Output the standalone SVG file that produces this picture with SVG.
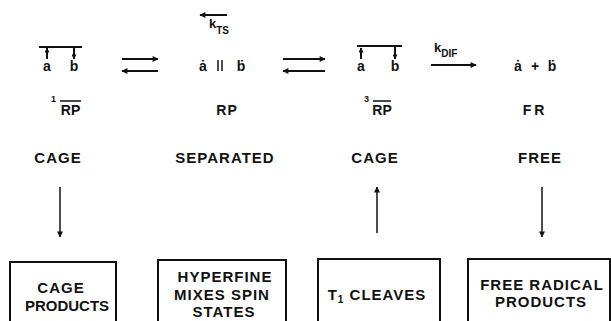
<svg xmlns="http://www.w3.org/2000/svg" width="611" height="321" viewBox="0 0 611 321">
<style>
text{font-family:"Liberation Sans","DejaVu Sans",Arial,sans-serif;font-weight:bold;fill:#111;}
.lbl{font-size:15px;letter-spacing:1px;text-anchor:middle;}
.sym{font-size:14px;text-anchor:middle;}
.sub{font-size:10px;}
.sup{font-size:9px;}
.box{fill:none;stroke:#111;stroke-width:2;}
.ln{stroke:#111;stroke-width:2;fill:none;}
.thin{stroke:#111;stroke-width:1.5;fill:none;}
</style>
<defs>
<marker id="ah" viewBox="0 0 10 10" refX="9" refY="5" markerWidth="9" markerHeight="6" markerUnits="userSpaceOnUse" orient="auto"><path d="M0,0 L10,5 L0,10 z" fill="#111"/></marker>
<marker id="ahs" viewBox="0 0 10 10" refX="9" refY="5" markerWidth="6" markerHeight="5" markerUnits="userSpaceOnUse" orient="auto"><path d="M0,0 L10,5 L0,10 z" fill="#111"/></marker>
</defs>

<g id="singlet-cage">
<line class="ln" x1="39" y1="47" x2="82" y2="47"/>
<line class="ln" x1="47" y1="59" x2="47" y2="48" marker-end="url(#ahs)"/>
<line class="ln" x1="74" y1="48" x2="74" y2="59" marker-end="url(#ahs)"/>
<text class="sym" x="47" y="71">a</text>
<text class="sym" x="74" y="71">b</text>
<text class="sup" x="51" y="102">1</text>
<line class="thin" x1="60" y1="101" x2="81" y2="101"/>
<text class="sym" x="70.5" y="115">RP</text>
<text class="lbl" x="58" y="163">CAGE</text>
</g>

<g id="separated">
<text class="sym" x="203" y="71">ȧ</text>
<line class="thin" x1="218" y1="60" x2="218" y2="71"/>
<line class="thin" x1="222" y1="60" x2="222" y2="71"/>
<text class="sym" x="241" y="71">ḃ</text>
<text class="sym" x="227" y="115" style="letter-spacing:1px">RP</text>
<text class="lbl" x="225" y="163">SEPARATED</text>
</g>

<g id="triplet-cage">
<line class="ln" x1="357" y1="46" x2="402" y2="46"/>
<line class="ln" x1="361" y1="59" x2="361" y2="48" marker-end="url(#ahs)"/>
<line class="ln" x1="395" y1="47" x2="395" y2="59" marker-end="url(#ahs)"/>
<text class="sym" x="361" y="71">a</text>
<text class="sym" x="395" y="71">b</text>
<text class="sup" x="364" y="102">3</text>
<line class="thin" x1="373" y1="101" x2="391" y2="101"/>
<text class="sym" x="382" y="115">RP</text>
<text class="lbl" x="375" y="163">CAGE</text>
</g>

<g id="free">
<text class="sym" x="518" y="71">ȧ</text>
<text class="sym" x="535" y="71">+</text>
<text class="sym" x="552" y="71">ḃ</text>
<text class="sym" x="535" y="115" style="letter-spacing:3px">FR</text>
<text class="lbl" x="540" y="163">FREE</text>
</g>

<g id="box-cage-products">
<rect class="box" x="10" y="262" width="106" height="70"/>
<text class="lbl" x="61" y="293">CAGE</text>
<text class="lbl" x="67" y="311" style="letter-spacing:0">PRODUCTS</text>
</g>

<g id="box-hyperfine">
<rect class="box" x="158" y="260" width="128" height="72"/>
<text class="lbl" x="225" y="282">HYPERFINE</text>
<text class="lbl" x="222" y="300">MIXES SPIN</text>
<text class="lbl" x="224" y="317">STATES</text>
</g>

<g id="box-t1-cleaves">
<rect class="box" x="318" y="259" width="122" height="73"/>
<text class="lbl" x="377" y="300">T<tspan class="sub" dy="3">1</tspan><tspan dy="-3"> CLEAVES</tspan></text>
</g>

<g id="box-free-radical-products">
<rect class="box" x="468" y="259" width="142" height="73"/>
<text class="lbl" x="542" y="290">FREE RADICAL</text>
<text class="lbl" x="541" y="307">PRODUCTS</text>
</g>

<g id="connectors">
<line class="ln" x1="122" y1="59" x2="158" y2="59" marker-end="url(#ah)"/>
<line class="ln" x1="158" y1="71" x2="122" y2="71" marker-end="url(#ah)"/>
<line class="ln" x1="283" y1="59" x2="325" y2="59" marker-end="url(#ah)"/>
<line class="ln" x1="325" y1="71" x2="283" y2="71" marker-end="url(#ah)"/>
<line class="ln" x1="227" y1="15" x2="200" y2="15" marker-end="url(#ah)"/>
<text x="209" y="28" style="font-size:13px">k<tspan class="sub" dy="6">TS</tspan></text>
<line class="ln" x1="431" y1="65" x2="476" y2="65" marker-end="url(#ah)"/>
<text x="434" y="52" style="font-size:13px">k<tspan class="sub" dy="5">DIF</tspan></text>
<line class="thin" x1="60" y1="187" x2="60" y2="237" marker-end="url(#ah)"/>
<line class="thin" x1="377" y1="233" x2="377" y2="187" marker-end="url(#ah)"/>
<line class="thin" x1="542" y1="187" x2="542" y2="237" marker-end="url(#ah)"/>
</g>
</svg>
